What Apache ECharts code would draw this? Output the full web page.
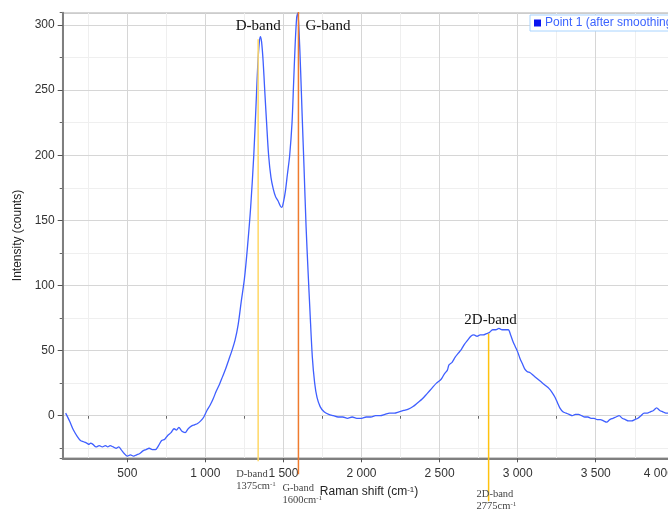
<!DOCTYPE html>
<html>
<head>
<meta charset="utf-8">
<script src="https://cdn.jsdelivr.net/npm/echarts@6/dist/echarts.min.js"></script>
<style>
html,body{margin:0;padding:0;background:#fff;}
#c{width:668px;height:512px;}
</style>
</head>
<body>
<div id="c"></div>
<script>
// ---- data ----
const seriesName = 'Point 1 (after smoothing)';
const ramanShift = [105,130,155,180,200,220,240,255,265,280,300,320,340,360,375,390,410,430,445,460,480,500,520,540,560,580,600,620,640,660,680,700,720,740,760,780,800,815,830,850,870,890,910,930,950,970,990,1010,1030,1050,1070,1090,1110,1130,1150,1170,1190,1210,1230,1250,1270,1290,1310,1325,1335,1345,1352,1360,1370,1380,1392,1405,1420,1435,1450,1465,1480,1490,1500,1512,1525,1540,1555,1565,1575,1585,1592,1600,1610,1620,1632,1645,1658,1670,1685,1700,1715,1735,1760,1790,1820,1850,1880,1910,1940,1970,2000,2030,2060,2090,2120,2150,2180,2210,2240,2270,2300,2330,2360,2390,2420,2450,2480,2510,2530,2550,2560,2580,2600,2620,2640,2660,2680,2700,2720,2740,2760,2780,2800,2820,2840,2860,2880,2900,2920,2940,2955,2970,2985,3000,3015,3030,3045,3060,3080,3100,3120,3140,3160,3180,3200,3220,3240,3255,3270,3290,3310,3330,3350,3370,3390,3410,3430,3450,3470,3490,3510,3530,3550,3570,3590,3610,3630,3650,3670,3690,3710,3730,3750,3770,3790,3810,3830,3850,3870,3890,3910,3930,3950,3970,4000,4030,4060,4090];
const intensity = [2,-4,-11,-16,-19,-20,-21,-22,-21,-22,-24,-23,-24,-23,-24,-23,-24,-25,-24,-26,-29,-31,-30,-31,-30,-29,-27,-26,-25,-26,-26,-23,-19,-18,-15,-13,-10,-11,-9,-12,-13,-10,-8,-7,-6,-4,-1,4,8,13,19,24,30,36,43,50,58,70,88,105,130,160,200,240,268,286,291,287,272,250,225,200,183,174,168,165,161,160,164,172,185,200,225,255,285,306,309,295,265,230,190,145,110,80,45,25,14,7,3,1,0,-1,-1,-2,-1,-2,-2,-1,-1,0,0,1,2,2,3,4,5,7,10,13,17,21,25,28,32,35,39,41,45,48,51,55,58,61,62,61,62,62,63,64,66,66,67,66,66,66,62,57,53,49,44,40,36,34,33,31,29,27,25,23,21,18,14,10,6,3,2,1,0,1,1,0,-1,-1,-2,-2,-3,-3,-4,-5,-3,-2,-1,0,-2,-3,-4,-4,-3,-2,0,2,2,3,4,6,4,3,2,2,3,2,3,2];

// band annotations
const bandNames = ['D-band', 'G-band', '2D-band'];
const bandWavenumbers = ['1375', '1600', '2775'];
const bandLineX = [1338, 1596, 2814];      // where the marker lines are drawn (axis units)
const bandLineTop = [289, 310, 63];         // intensity where each marker line starts

// axis settings
const xMin = 86.2, xMax = 4100;
const yMin = -32.7, yMax = 309.4;

const points = ramanShift.map((x, i) => [x, intensity[i]]);

const fmtX = v => {
  const r = Math.round(v);
  if (r >= 1000) {
    const s = String(r);
    const t = s.slice(0, s.length - 3) + ' ' + s.slice(-3);
    return r >= 4000 ? '{edge|' + t + '}' : t;
  }
  return String(r);
};

const chart = echarts.init(document.getElementById('c'), null, {renderer: 'canvas'});
const font = 'Liberation Sans, Arial, sans-serif';
const serif = 'Liberation Serif, Times New Roman, serif';

chart.setOption({
  animation: false,
  backgroundColor: '#fff',
  grid: {left: 62.7, top: 12.7, bottom: 53.7, right: -21.4, show: true, borderColor: '#9a9a9a', borderWidth: 1.5,
         containLabel: false, outerBoundsMode: 'none'},
  legend: {
    left: 530, top: 15, padding: [2, 4], itemWidth: 7, itemHeight: 7, itemGap: 4,
    borderColor: '#a8d4ff', borderWidth: 1, backgroundColor: '#fff',
    data: [{name: seriesName, icon: 'rect', itemStyle: {color: '#0a14f0'}}],
    textStyle: {color: '#3b63ff', fontSize: 12, fontFamily: font, padding: [0, 0, 0, -1]}
  },
  xAxis: [
    {
      type: 'value', min: xMin, max: xMax, minInterval: 500, maxInterval: 500, position: 'bottom', z: 1,
      name: '{a|Raman shift (cm}{s|-1}{a|)}', nameLocation: 'middle', nameGap: 27,
      nameTextStyle: {padding: [0, 14, 0, 0], rich: {a: {fontSize: 12, fontFamily: font, color: '#222'}, s: {fontSize: 8, fontFamily: font, color: '#222', verticalAlign: 'top', padding: [0, 0, 4, 0]}}},
      axisLine: {show: true, onZero: false, lineStyle: {color: '#7f7f7f', width: 2}},
      axisTick: {show: true, length: 4, lineStyle: {color: '#555'}},
      axisLabel: {color: '#333', fontSize: 12, fontFamily: font, margin: 9, formatter: fmtX, showMinLabel: false, showMaxLabel: false,
                  rich: {edge: {color: '#333', fontSize: 12, fontFamily: font, padding: [0, 30, 0, 0]}}},
      splitLine: {show: true, lineStyle: {color: '#d6d6d6', width: 1}}
    },
    {
      type: 'value', min: xMin, max: xMax, minInterval: 250, maxInterval: 250, position: 'bottom', z: 0,
      axisLine: {show: false},
      axisTick: {show: true, length: 3, lineStyle: {color: '#666'}},
      axisLabel: {show: false},
      splitLine: {show: true, lineStyle: {color: '#efefef', width: 1}}
    }
  ],
  yAxis: [
    {
      type: 'value', min: yMin, max: yMax, minInterval: 50, maxInterval: 50, position: 'left', z: 1,
      name: 'Intensity (counts)', nameLocation: 'middle', nameGap: 38,
      nameTextStyle: {fontSize: 12, fontFamily: font, color: '#222'},
      axisLine: {show: true, onZero: false, lineStyle: {color: '#7f7f7f', width: 2}},
      axisTick: {show: true, length: 5, lineStyle: {color: '#555'}},
      axisLabel: {color: '#333', fontSize: 12, fontFamily: font, margin: 8, showMinLabel: false, showMaxLabel: false},
      splitLine: {show: true, lineStyle: {color: '#d6d6d6', width: 1}}
    },
    {
      type: 'value', min: yMin, max: yMax, minInterval: 25, maxInterval: 25, position: 'left', z: 0,
      axisLine: {show: false},
      axisTick: {show: true, length: 3, lineStyle: {color: '#666'}},
      axisLabel: {show: false},
      splitLine: {show: true, lineStyle: {color: '#efefef', width: 1}}
    }
  ],
  series: [{
    name: seriesName, type: 'line', xAxisIndex: 0, yAxisIndex: 0,
    data: points, showSymbol: false, symbol: 'none', smooth: 0.3, clip: true,
    lineStyle: {color: '#3f5fff', width: 1.3}, itemStyle: {color: '#3f5fff'}, z: 3
  }]
});

// annotations positioned through the chart's own scales
const toPx = (x, y) => chart.convertToPixel({xAxisIndex: 0, yAxisIndex: 0}, [x, y]);
const axisBottom = toPx(xMin, yMin)[1];
const plotTop = toPx(xMin, yMax)[1];
const lineColors = ['#ffd866', '#ef7b2e', '#ffc20e'];
const lineEndOffset = [3, 16, 43];
const topLabelDy = [13, 13, -14];
const subLabelDx = [-22, -16, -12];
const subLabelDy = [22, 36, 42];

const graphics = [];
bandNames.forEach((nm, i) => {
  const p = toPx(bandLineX[i], bandLineTop[i]);
  graphics.push({
    type: 'line', z: 5, silent: true,
    shape: {x1: p[0], y1: p[1], x2: p[0], y2: axisBottom + lineEndOffset[i]},
    style: {stroke: lineColors[i], lineWidth: 1.5}
  });
  // big label above
  let tx, ty, align;
  if (i === 0) { tx = p[0]; ty = plotTop + topLabelDy[i]; align = 'center'; }
  else if (i === 1) { tx = p[0] + 7; ty = plotTop + topLabelDy[i]; align = 'left'; }
  else { tx = p[0] + 2; ty = p[1] + topLabelDy[i]; align = 'center'; }
  graphics.push({
    type: 'text', z: 6, silent: true, x: tx, y: ty,
    style: {text: nm, fill: '#111', font: '15px ' + serif, align: align, verticalAlign: 'middle'}
  });
  // small labels below the axis
  graphics.push({
    type: 'text', z: 6, silent: true, x: p[0] + subLabelDx[i], y: axisBottom + subLabelDy[i],
    style: {
      text: '{n|' + nm + '}\n{a|' + bandWavenumbers[i] + 'cm}{s|-1}',
      align: 'left', verticalAlign: 'middle',
      rich: {
        n: {fontSize: 10.5, fontFamily: serif, fill: '#444', lineHeight: 12},
        a: {fontSize: 10.5, fontFamily: serif, fill: '#444', lineHeight: 12},
        s: {fontSize: 7, fontFamily: serif, fill: '#444', lineHeight: 12, verticalAlign: 'top'}
      }
    }
  });
});
chart.setOption({graphic: graphics});
</script>
</body>
</html>
